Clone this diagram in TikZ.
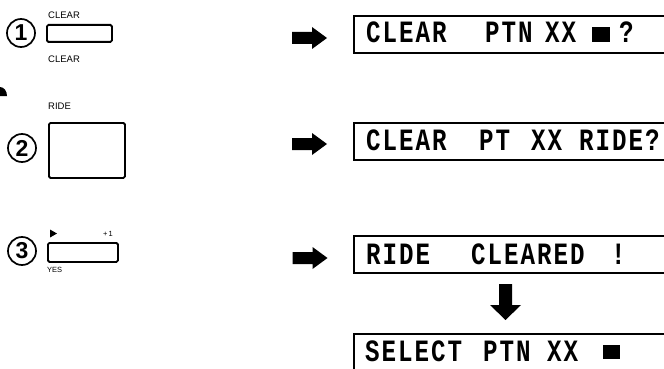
\documentclass[tikz,border=0pt]{standalone}
\usepackage{fontspec}
\setmainfont{Liberation Sans}
\newfontfamily\lcdfont[FakeStretch=0.78]{Liberation Mono Bold}
\newfontfamily\digfont{Liberation Sans Bold}
\newlength\lcdpitch
\setlength\lcdpitch{16.5pt}
\def\lcdloop#1{\ifx#1\relax\else\makebox[\lcdpitch][c]{#1}\expandafter\lcdloop\fi}
\newcommand\lcdstr[1]{\lcdloop#1\relax}
\begin{document}
\begin{tikzpicture}[x=1pt,y=-1pt,
  btn/.style={draw, line width=1.8pt, rounded corners=1.5pt, inner sep=0pt, anchor=north west},
  disp/.style={draw, line width=1.6pt, anchor=north west, minimum width=420pt, minimum height=37pt, inner sep=0pt},
  lcd/.style={font=\lcdfont\fontsize{31}{31}\selectfont, anchor=base west, inner sep=0pt},
  lbl/.style={font=\fontsize{9.5}{10}\selectfont, anchor=base west, inner sep=0pt},
  tiny/.style={font=\fontsize{7.5}{8}\selectfont, anchor=base west, inner sep=0pt},
  num/.style={circle, draw, line width=1.7pt, minimum size=28pt, inner sep=0pt, font=\digfont\fontsize{23}{23}\selectfont},
  sq/.style={fill=black, inner sep=0pt, minimum width=18pt, minimum height=15pt},
  rarr/.pic={\fill (-17.5,-6) -- (2.5,-6) -- (2.5,-11) -- (17.5,0) -- (2.5,11) -- (2.5,6) -- (-17.5,6) -- cycle;},
  darr/.pic={\fill (-6.5,-18) -- (-6.5,3) -- (-15.5,3) -- (0,18) -- (15.5,3) -- (6.5,3) -- (6.5,-18) -- cycle;}
]
\useasboundingbox (0,0) rectangle (664,369);
\clip (0,0) rectangle (664,369);

% left edge fragment
\fill (0,96) -- (0,87) .. controls (4,87) and (7,91) .. (7,96) -- cycle;

% step 1
\node[num] (n1) at (21,33) {1};
\node[btn, minimum width=65pt, minimum height=17pt] (b1) at (46,24) {};
\node[lbl] (l1a) at (48,18.5) {CLEAR};
\node[lbl] (l1b) at (48,63) {CLEAR};

% step 2
\node[num] (n2) at (22,148) {2};
\node[btn, minimum width=76pt, minimum height=55pt] (b2) at (48,122) {};
\node[lbl] (l2) at (48,110) {RIDE};

% step 3
\node[num] (n3) at (22,251) {3};
\node[btn, minimum width=70pt, minimum height=19pt] (b3) at (47,242) {};
\fill (50,229.5) -- (57,233.5) -- (50,237.5) -- cycle;
\node[tiny] (l3a) at (103,236.5) {+\kern1pt 1};
\node[tiny] (l3b) at (47,272) {YES};

% arrows
\pic at (309.5,38) {rarr};
\pic at (309.5,144) {rarr};
\pic at (310,258) {rarr};
\pic at (505.5,302) {darr};

% display 1
\node[disp] (d1) at (353,15) {};
\node[lcd] (t1a) at (365,43) {\lcdstr{CLEAR}};
\node[lcd] (t1b) at (484,43) {\lcdstr{PTN}};
\node[lcd] (t1c) at (544,43) {\lcdstr{XX}};
\node[sq] (s1) at (601,34.5) {};
\node[lcd] (t1d) at (618,43) {\lcdstr{?}};

% display 2
\node[disp] (d2) at (353,122) {};
\node[lcd] (t2a) at (365,150) {\lcdstr{CLEAR}};
\node[lcd] (t2b) at (478,150) {\lcdstr{PT}};
\node[lcd] (t2c) at (530,150) {\lcdstr{XX}};
\node[lcd] (t2d) at (578,150) {\lcdstr{RIDE?}};

% display 3
\node[disp] (d3) at (353,235) {};
\node[lcd] (t3a) at (365,264) {\lcdstr{RIDE}};
\node[lcd] (t3b) at (470,264) {\lcdstr{CLEARED}};
\node[lcd] (t3c) at (610,264) {\lcdstr{!}};

% display 4
\node[disp] (d4) at (353,333) {};
\node[lcd] (t4a) at (364,361) {\lcdstr{SELECT}};
\node[lcd] (t4b) at (482,361) {\lcdstr{PTN}};
\node[lcd] (t4c) at (546,361) {\lcdstr{XX}};
\node[sq, minimum width=17pt, minimum height=14pt] (s4) at (611.5,352) {};
\end{tikzpicture}
\end{document}
